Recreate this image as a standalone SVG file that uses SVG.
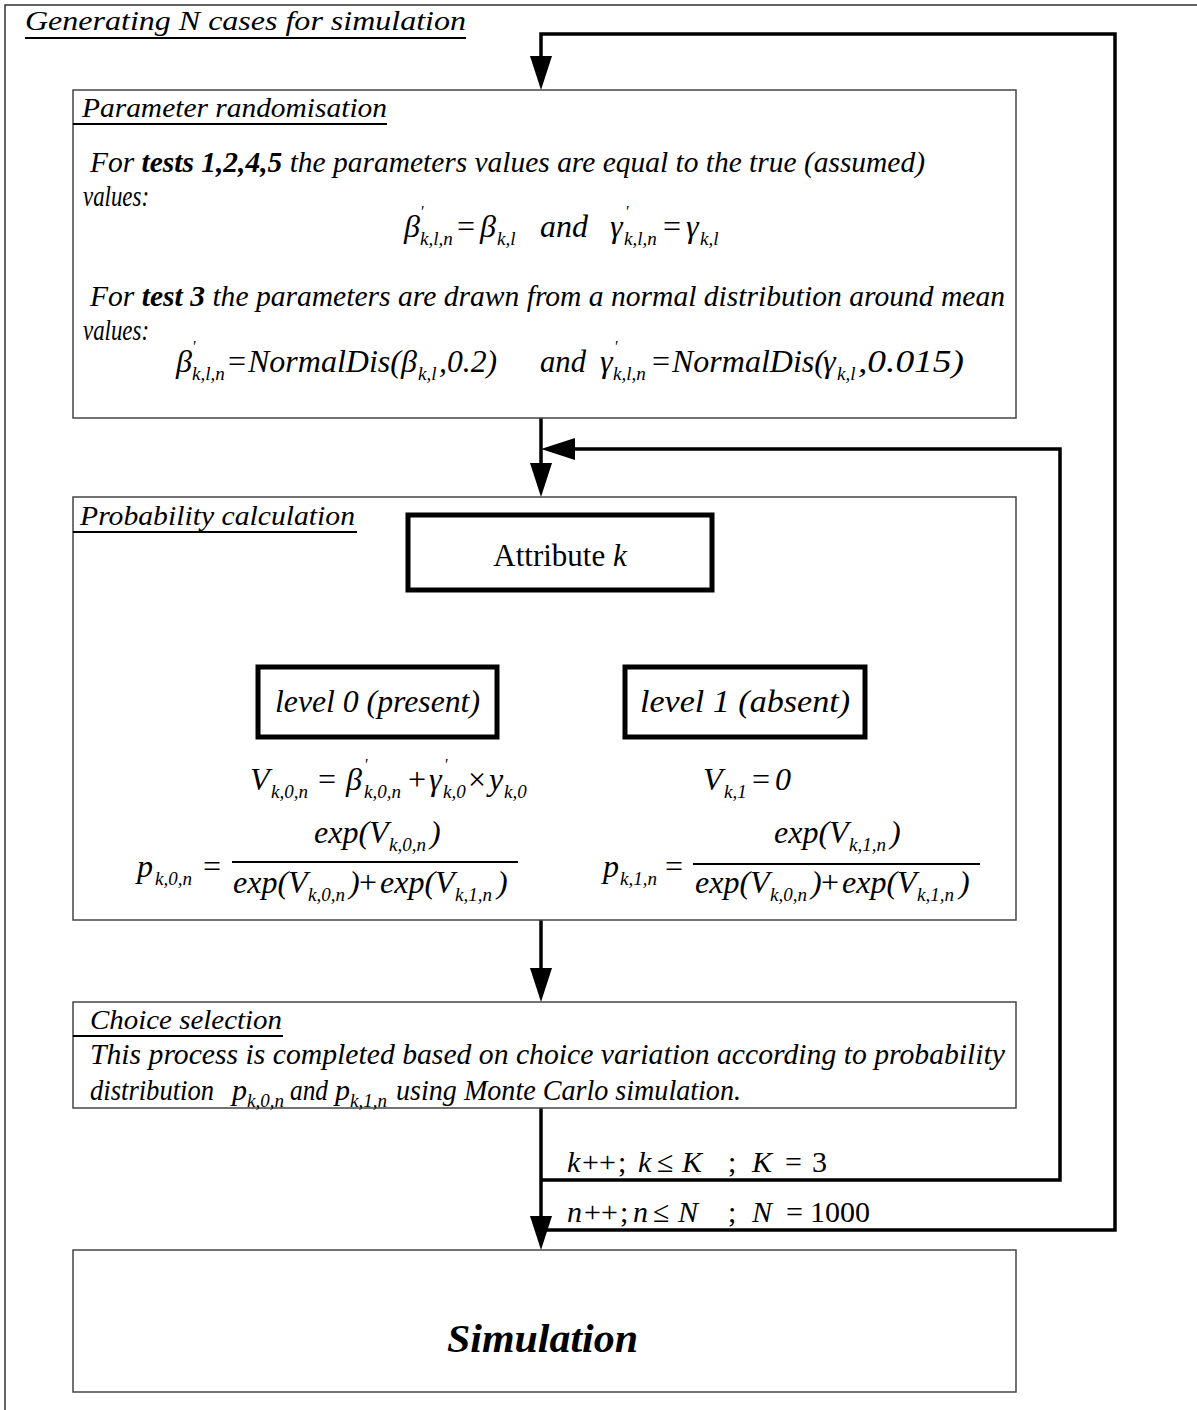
<svg xmlns="http://www.w3.org/2000/svg" width="1197" height="1410" viewBox="0 0 1197 1410">
  <style>
    .frame { fill: none; stroke: #333; stroke-width: 1.5; }
    .box { fill: #fff; stroke: #444; stroke-width: 1.5; }
    .node { fill: #fff; stroke: #000; stroke-width: 5; }
    .conn { fill: none; stroke: #000; stroke-width: 3.5; }
    .thin { fill: none; stroke: #000; stroke-width: 2; }
    .head { fill: #000; stroke: none; }
    .ul { stroke: #000; stroke-width: 2; }
    .t { font-family: "Liberation Serif", "Times New Roman", serif; font-style: italic; font-size: 30px; fill: #000; }
    .h { font-size: 28px; }
    .m { font-family: "Liberation Serif", "Times New Roman", serif; font-style: italic; font-size: 32px; fill: #000; }
    .up { font-style: normal; }
    .b { font-weight: bold; }
    .s { font-size: 19px; }
    .pr { font-size: 16px; }
  </style>

  <!-- outer frame -->
  <path class="frame" d="M5,1410 V5 H1197"/>
  <text class="t h" x="25" y="30" textLength="441" lengthAdjust="spacingAndGlyphs">Generating N cases for simulation</text>
  <line class="ul" x1="25" y1="38" x2="466" y2="38"/>

  <!-- connectors -->
  <g id="connectors">
    <!-- outer loop over n -->
    <path class="conn" d="M541,1230 H1115 V34 H541 V60"/>
    <polygon class="head" points="530,56 552,56 541,90"/>
    <!-- parameter box to probability box -->
    <path class="conn" d="M541,418 V470"/>
    <polygon class="head" points="530,463 552,463 541,497"/>
    <!-- inner loop over k -->
    <path class="conn" d="M541,1180 H1060 V449 H570"/>
    <polygon class="head" points="541,449 575,438 575,460"/>
    <!-- probability box to choice box -->
    <path class="conn" d="M541,920 V975"/>
    <polygon class="head" points="530,968 552,968 541,1002"/>
    <!-- choice box to simulation -->
    <path class="conn" d="M541,1108 V1222"/>
    <polygon class="head" points="530,1216 552,1216 541,1250"/>
    <!-- attribute to levels -->
    <line class="thin" x1="568" y1="591" x2="478" y2="657"/>
    <polygon class="head" points="468,665 476,648 488,660"/>
    <line class="thin" x1="568" y1="591" x2="656" y2="657"/>
    <polygon class="head" points="666,665 647,660 659,648"/>
  </g>

  <!-- parameter randomisation -->
  <g id="param">
    <rect class="box" x="73" y="90" width="943" height="328"/>
    <text class="t h" x="82" y="117" textLength="305" lengthAdjust="spacingAndGlyphs">Parameter randomisation</text>
    <line class="ul" x1="73" y1="124" x2="387" y2="124"/>
    <text class="t" x="90" y="172" textLength="835" lengthAdjust="spacingAndGlyphs">For <tspan class="b">tests 1,2,4,5</tspan> the parameters values are equal to the true (assumed)</text>
    <text class="t" x="83" y="206" textLength="66" lengthAdjust="spacingAndGlyphs">values:</text>
    <text class="m" y="237">
      <tspan x="404">β</tspan><tspan class="pr" x="420" dy="-20">'</tspan><tspan class="s" x="420" dy="28">k,l,n</tspan>
      <tspan class="up" x="457" dy="-8">=</tspan>
      <tspan x="480">β</tspan><tspan class="s" x="497" dy="8">k,l</tspan>
      <tspan x="540" dy="-8">and</tspan>
      <tspan x="610">γ</tspan><tspan class="pr" x="625" dy="-20">'</tspan><tspan class="s" x="624" dy="28">k,l,n</tspan>
      <tspan class="up" x="663" dy="-8">=</tspan>
      <tspan x="686">γ</tspan><tspan class="s" x="700" dy="8">k,l</tspan>
    </text>
    <text class="t" x="90" y="306" textLength="915" lengthAdjust="spacingAndGlyphs">For <tspan class="b">test 3</tspan> the parameters are drawn from a normal distribution around mean</text>
    <text class="t" x="83" y="340" textLength="66" lengthAdjust="spacingAndGlyphs">values:</text>
    <text class="m" y="372">
      <tspan x="176">β</tspan><tspan class="pr" x="192" dy="-20">'</tspan><tspan class="s" x="192" dy="28">k,l,n</tspan>
      <tspan class="up" x="228" dy="-8">=</tspan>
    </text>
    <text class="m" x="248" y="372">NormalDis(</text>
    <text class="m" y="372"><tspan x="401">β</tspan><tspan class="s" x="418" dy="8">k,l</tspan></text>
    <text class="m" x="439" y="372" textLength="58" lengthAdjust="spacingAndGlyphs">,0.2)</text>
    <text class="m" x="540" y="372" textLength="46" lengthAdjust="spacingAndGlyphs">and</text>
    <text class="m" y="372">
      <tspan x="600">γ</tspan><tspan class="pr" x="614" dy="-20">'</tspan><tspan class="s" x="613" dy="28">k,l,n</tspan>
      <tspan class="up" x="652" dy="-8">=</tspan>
    </text>
    <text class="m" x="672" y="372">NormalDis(</text>
    <text class="m" y="372"><tspan x="823">γ</tspan><tspan class="s" x="837" dy="8">k,l</tspan></text>
    <text class="m" x="858" y="372" textLength="106" lengthAdjust="spacingAndGlyphs">,0.015)</text>
  </g>

  <!-- probability calculation -->
  <g id="prob">
    <rect class="box" x="73" y="497" width="943" height="423"/>
    <text class="t h" x="80" y="525" textLength="275" lengthAdjust="spacingAndGlyphs">Probability calculation</text>
    <line class="ul" x1="73" y1="532" x2="357" y2="532"/>
  </g>

  <g id="attribute">
    <rect class="node" x="408" y="515" width="304" height="75"/>
    <text class="m up" x="560" y="566" text-anchor="middle" style="font-size:31px">Attribute <tspan font-style="italic">k</tspan></text>
  </g>

  <g id="level0">
    <rect class="node" x="258" y="667" width="239" height="70"/>
    <text class="m" x="377.5" y="712" text-anchor="middle" textLength="205" lengthAdjust="spacingAndGlyphs" style="font-size:31px">level 0 (present)</text>
  </g>

  <g id="level1">
    <rect class="node" x="625" y="667" width="240" height="70"/>
    <text class="m" x="745" y="712" text-anchor="middle" textLength="210" lengthAdjust="spacingAndGlyphs" style="font-size:31px">level 1 (absent)</text>
  </g>

  <g id="formula-level0">
    <text class="m" y="790">
      <tspan x="250">V</tspan><tspan class="s" x="271" dy="8">k,0,n</tspan>
      <tspan class="up" x="318" dy="-8">=</tspan>
      <tspan x="346">β</tspan><tspan class="pr" x="364" dy="-20">'</tspan><tspan class="s" x="364" dy="28">k,0,n</tspan>
      <tspan class="up" x="408" dy="-8">+</tspan>
      <tspan x="429">γ</tspan><tspan class="pr" x="444" dy="-20">'</tspan><tspan class="s" x="443" dy="28">k,0</tspan>
      <tspan class="up" x="468" dy="-8">×</tspan>
      <tspan x="489">y</tspan><tspan class="s" x="504" dy="8">k,0</tspan>
    </text>
    <text class="m" y="877"><tspan x="137">p</tspan><tspan class="s" x="155" dy="8">k,0,n</tspan><tspan class="up" x="203" dy="-8">=</tspan></text>
    <line x1="232" y1="862" x2="518" y2="862" stroke="#000" stroke-width="2"/>
    <text class="m" y="843"><tspan x="314">exp(V</tspan><tspan class="s" x="389" dy="8">k,0,n</tspan><tspan x="430" dy="-8">)</tspan></text>
    <text class="m" y="893">
      <tspan x="233">exp(V</tspan><tspan class="s" x="308" dy="8">k,0,n</tspan><tspan x="349" dy="-8">)</tspan>
      <tspan class="up" x="359">+</tspan>
      <tspan x="380">exp(V</tspan><tspan class="s" x="455" dy="8">k,1,n</tspan><tspan x="497" dy="-8">)</tspan>
    </text>
  </g>

  <g id="formula-level1">
    <text class="m" y="790"><tspan x="703">V</tspan><tspan class="s" x="724" dy="8">k,1</tspan><tspan class="up" x="752" dy="-8">=</tspan><tspan x="775">0</tspan></text>
    <text class="m" y="877"><tspan x="603">p</tspan><tspan class="s" x="620" dy="8">k,1,n</tspan><tspan class="up" x="665" dy="-8">=</tspan></text>
    <line x1="693" y1="864" x2="980" y2="864" stroke="#000" stroke-width="2"/>
    <text class="m" y="843"><tspan x="774">exp(V</tspan><tspan class="s" x="849" dy="8">k,1,n</tspan><tspan x="890" dy="-8">)</tspan></text>
    <text class="m" y="893">
      <tspan x="695">exp(V</tspan><tspan class="s" x="770" dy="8">k,0,n</tspan><tspan x="811" dy="-8">)</tspan>
      <tspan class="up" x="821">+</tspan>
      <tspan x="842">exp(V</tspan><tspan class="s" x="917" dy="8">k,1,n</tspan><tspan x="959" dy="-8">)</tspan>
    </text>
  </g>

  <!-- choice selection -->
  <g id="choice">
    <rect class="box" x="73" y="1002" width="943" height="106"/>
    <text class="t h" x="90" y="1029" textLength="192" lengthAdjust="spacingAndGlyphs">Choice selection</text>
    <line class="ul" x1="73" y1="1036" x2="283" y2="1036"/>
    <text class="t" x="90" y="1064" textLength="915" lengthAdjust="spacingAndGlyphs">This process is completed based on choice variation according to probability</text>
    <text class="t" x="90" y="1100" textLength="124" lengthAdjust="spacingAndGlyphs">distribution</text>
    <text class="t" y="1100"><tspan x="232">p</tspan><tspan class="s" x="247" dy="7">k,0,n</tspan></text>
    <text class="t" x="290" y="1100" textLength="38" lengthAdjust="spacingAndGlyphs">and</text>
    <text class="t" y="1100"><tspan x="335">p</tspan><tspan class="s" x="350" dy="7">k,1,n</tspan></text>
    <text class="t" x="396" y="1100" textLength="345" lengthAdjust="spacingAndGlyphs">using Monte Carlo simulation.</text>
  </g>

  <!-- loop labels -->
  <g id="loop-labels">
    <text class="m" y="1172" style="font-size:30px">
      <tspan x="567">k</tspan><tspan class="up" x="582">++</tspan><tspan class="up" x="618">;</tspan>
      <tspan x="638">k</tspan><tspan class="up" x="657">≤</tspan><tspan x="682">K</tspan>
      <tspan class="up" x="728">;</tspan>
      <tspan x="752">K</tspan><tspan class="up" x="785">=</tspan><tspan class="up" x="812">3</tspan>
    </text>
    <text class="m" y="1222" style="font-size:30px">
      <tspan x="567">n</tspan><tspan class="up" x="584">++</tspan><tspan class="up" x="620">;</tspan>
      <tspan x="633">n</tspan><tspan class="up" x="653">≤</tspan><tspan x="678">N</tspan>
      <tspan class="up" x="728">;</tspan>
      <tspan x="752">N</tspan><tspan class="up" x="786">=</tspan><tspan class="up" x="810">1000</tspan>
    </text>
  </g>

  <!-- simulation -->
  <g id="simulation">
    <rect class="box" x="73" y="1250" width="943" height="142"/>
    <text class="t b" x="447" y="1352" textLength="191" lengthAdjust="spacingAndGlyphs" style="font-size:40px">Simulation</text>
  </g>
</svg>
